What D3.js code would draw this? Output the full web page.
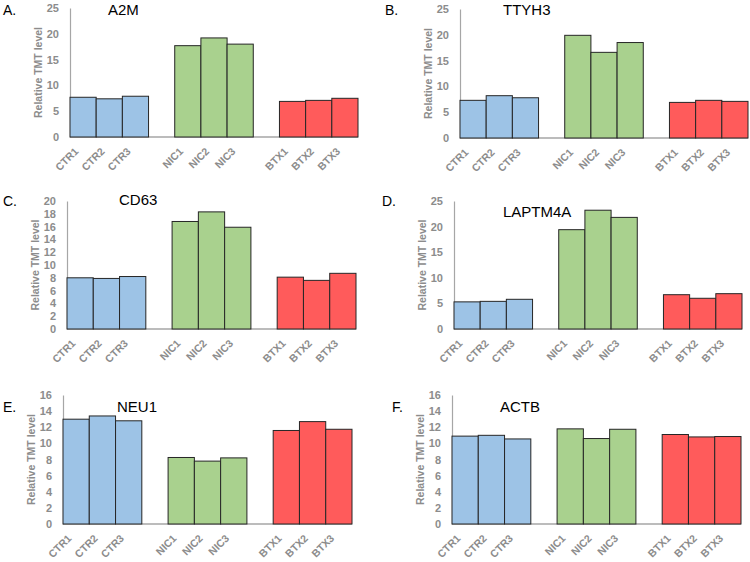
<!DOCTYPE html>
<html>
<head>
<meta charset="utf-8">
<script src="https://cdn.jsdelivr.net/npm/d3@7"></script>
<style>
  body { margin: 0; background: #fff; }
  svg { display: block; font-family: "Liberation Sans", Arial, sans-serif; }
</style>
</head>
<body>
<script>
var categories = ["CTR1", "CTR2", "CTR3", "NIC1", "NIC2", "NIC3", "BTX1", "BTX2", "BTX3"];
var groupColors = ["#9dc3e6", "#a9d18e", "#ff5b5b"];
var genes = ["A2M", "TTYH3", "CD63", "LAPTM4A", "NEU1", "ACTB"];
var panelLetters = ["A.", "B.", "C.", "D.", "E.", "F."];

var a2m     = [7.7, 7.4, 7.9, 17.7, 19.2, 18.0, 6.9, 7.1, 7.5];
var ttyh3   = [7.3, 8.2, 7.8, 19.9, 16.6, 18.5, 6.9, 7.3, 7.1];
var cd63    = [8.0, 7.9, 8.2, 16.8, 18.3, 15.9, 8.1, 7.6, 8.7];
var laptm4a = [5.3, 5.4, 5.8, 19.4, 23.2, 21.8, 6.7, 6.0, 6.9];
var neu1    = [13.0, 13.4, 12.8, 8.25, 7.8, 8.2, 11.6, 12.7, 11.75];
var actb    = [10.9, 11.0, 10.55, 11.8, 10.6, 11.75, 11.1, 10.8, 10.85];

var yMax  = [25, 25, 20, 25, 16, 16];
var yStep = [5, 5, 2, 5, 2, 2];

var series = [a2m, ttyh3, cd63, laptm4a, neu1, actb];

// plot boxes: left, right, top, bottom, title x offset, title baseline, letter x, letter baseline
var boxes = [
  {x0: 70,  x1: 358, y0: 8,   y1: 137, tx: 38, ty: 15,  lx: 3,   ly: 15},
  {x0: 460, x1: 748, y0: 9,   y1: 138, tx: 43, ty: 15,  lx: 385, ly: 15},
  {x0: 67,  x1: 356, y0: 201, y1: 329, tx: 52, ty: 205, lx: 3,   ly: 206},
  {x0: 454, x1: 742, y0: 201, y1: 329, tx: 49, ty: 217, lx: 382, ly: 206},
  {x0: 63,  x1: 352, y0: 395, y1: 524, tx: 54, ty: 412, lx: 3,   ly: 412},
  {x0: 452, x1: 741, y0: 395, y1: 524, tx: 48, ty: 412, lx: 392, ly: 412}
];

var svg = d3.select("body").append("svg")
    .attr("width", 750)
    .attr("height", 562);

var gray = "#8c8c8c";

genes.forEach(function (gene, p) {
  var b = boxes[p];
  var vals = series[p];
  var g = svg.append("g");

  // 9 bars + 2 gaps = 11 slots
  var x = d3.scaleLinear().domain([0, 11]).range([b.x0, b.x1]);
  var y = d3.scaleLinear().domain([0, yMax[p]]).range([b.y1, b.y0]);
  var slot = function (i) { return i + Math.floor(i / 3); };

  // y axis
  var yAxis = d3.axisLeft(y)
      .tickValues(d3.range(0, yMax[p] + 0.001, yStep[p]))
      .tickSize(0)
      .tickPadding(11);
  var ya = g.append("g")
      .attr("transform", "translate(" + b.x0 + ",0)")
      .call(yAxis);
  ya.select(".domain").attr("stroke", "#a6a6a6").attr("stroke-width", 1.2);
  ya.selectAll("text")
      .attr("fill", gray)
      .style("font-size", "11px")
      .style("font-weight", "bold");

  // x baseline
  g.append("line")
      .attr("x1", b.x0).attr("x2", b.x1)
      .attr("y1", y(0)).attr("y2", y(0))
      .attr("stroke", "#a6a6a6")
      .attr("stroke-width", 1.5);

  // bars
  g.selectAll("rect.bar")
      .data(vals)
      .enter().append("rect")
      .attr("class", "bar")
      .attr("x", function (d, i) { return x(slot(i)); })
      .attr("width", x(1) - x(0))
      .attr("y", function (d) { return y(d); })
      .attr("height", function (d) { return y(0) - y(d); })
      .attr("fill", function (d, i) { return groupColors[Math.floor(i / 3)]; })
      .attr("stroke", "#262626")
      .attr("stroke-width", 1);

  // category labels
  g.selectAll("text.cat")
      .data(categories)
      .enter().append("text")
      .attr("class", "cat")
      .attr("transform", function (d, i) {
        var cx = x(slot(i) + 0.5);
        return "translate(" + (cx - 4) + "," + (y(0) + 15) + ") rotate(-45)";
      })
      .attr("text-anchor", "end")
      .attr("fill", gray)
      .style("font-size", "10.5px")
      .style("font-weight", "bold")
      .text(function (d) { return d; });

  // y title
  g.append("text")
      .attr("transform", "translate(" + (b.x0 - 28) + "," + ((b.y0 + b.y1) / 2) + ") rotate(-90)")
      .attr("text-anchor", "middle")
      .attr("fill", gray)
      .style("font-size", "10.5px")
      .style("font-weight", "bold")
      .text("Relative TMT level");

  // gene title
  g.append("text")
      .attr("x", b.x0 + b.tx)
      .attr("y", b.ty)
      .attr("fill", "#000")
      .style("font-size", "15px")
      .text(gene);

  // panel letter
  g.append("text")
      .attr("x", b.lx)
      .attr("y", b.ly)
      .attr("fill", "#000")
      .style("font-size", "14px")
      .text(panelLetters[p]);
});
</script>
</body>
</html>
